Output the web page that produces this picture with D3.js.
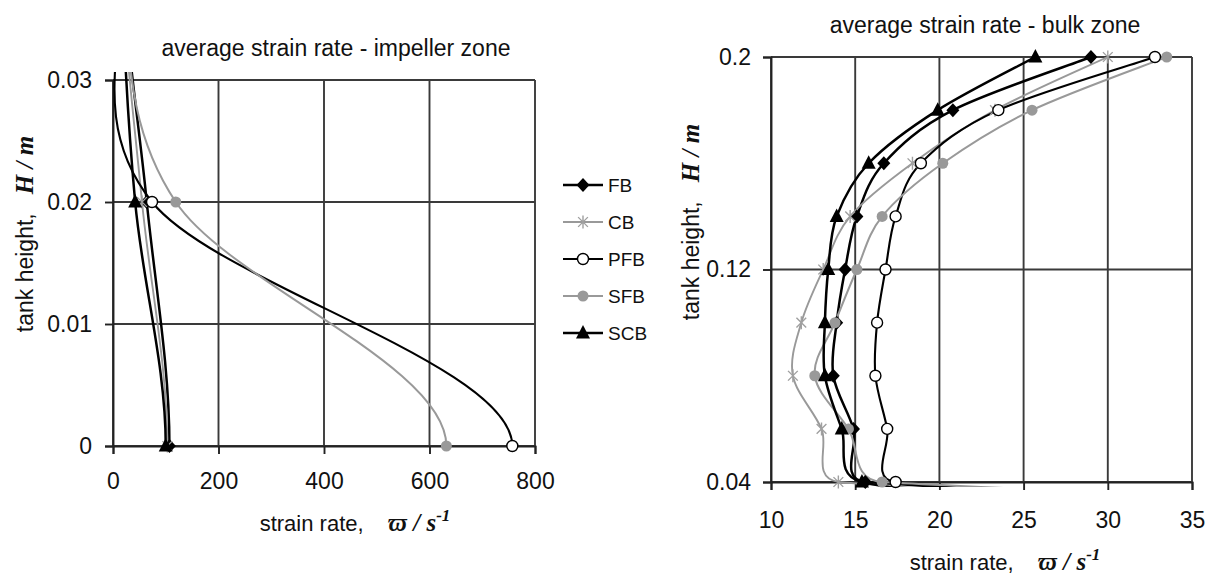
<!DOCTYPE html>
<html>
<head>
<meta charset="utf-8">
<script src="https://cdn.jsdelivr.net/npm/d3@7"></script>
<style>
  body { margin: 0; background: #fff; }
  svg text { font-family: "Liberation Sans", Arial, sans-serif; fill: #111; }
  .sym { font-family: "Liberation Serif", "DejaVu Serif", serif; font-weight: bold; font-style: italic; }
</style>
</head>
<body>
<svg id="chart" width="1211" height="579"></svg>
<script>
// ---- data -------------------------------------------------------------
const seriesNames = ["FB", "CB", "PFB", "SFB", "SCB"];

// impeller zone, height H (m); the -0.02 row lies below the plotted range
const impellerHeights = [-0.02, 0, 0.02];
const impellerFB  = [64, 107, 64];
const impellerCB  = [55, 103, 55];
const impellerPFB = [74, 757, 74];
const impellerSFB = [119, 632, 119];
const impellerSCB = [42, 100, 42];

// bulk zone, height H (m)
const bulkHeights = [0.04, 0.06, 0.08, 0.10, 0.12, 0.14, 0.16, 0.18, 0.20];
const bulkFB  = [15.6, 14.9, 13.7, 13.9, 14.4, 15.1, 16.7, 20.8, 29.0];
const bulkCB  = [14.0, 13.0, 11.3, 11.8, 13.1, 14.7, 18.4, 23.3, 30.0];
const bulkPFB = [17.4, 16.9, 16.2, 16.3, 16.8, 17.4, 18.9, 23.5, 32.8];
const bulkSFB = [16.6, 14.6, 12.6, 13.8, 15.1, 16.6, 20.2, 25.5, 33.5];
const bulkSCB = [15.4, 14.2, 13.2, 13.2, 13.4, 13.9, 15.8, 19.9, 25.7];

const impellerTicksX = [0, 200, 400, 600, 800];
const impellerTicksY = [0, 0.01, 0.02, 0.03];
const bulkTicksX = [10, 15, 20, 25, 30, 35];
const bulkTicksY = [0.04, 0.12, 0.2];

const impellerValues = { FB: impellerFB, CB: impellerCB, PFB: impellerPFB, SFB: impellerSFB, SCB: impellerSCB };
const bulkValues = { FB: bulkFB, CB: bulkCB, PFB: bulkPFB, SFB: bulkSFB, SCB: bulkSCB };

// each profile runs through the impeller zone and on into the bulk zone
const heights = impellerHeights.concat(bulkHeights);
const profiles = seriesNames.map(name => {
  const vals = impellerValues[name].concat(bulkValues[name]);
  return { name, points: heights.map((h, i) => ({ h, v: vals[i] })) };
});

// ---- styles -----------------------------------------------------------
const styles = {
  FB:  { stroke: "#000",    width: 2.5, marker: "diamond" },
  CB:  { stroke: "#999",    width: 1.9, marker: "star" },
  PFB: { stroke: "#000",    width: 2.1, marker: "openCircle" },
  SFB: { stroke: "#999",    width: 2.0, marker: "dot" },
  SCB: { stroke: "#000",    width: 2.5, marker: "triangle" }
};

const svg = d3.select("#chart");
const defs = svg.append("defs");

// smoothed line: cubic Bezier through the points with tangents from the
// neighbouring points, the handles limited by the adjacent segment lengths
function smoothPath(pts) {
  const n = pts.length;
  const tan = pts.map((p, i) => {
    const a = pts[Math.max(i - 1, 0)], b = pts[Math.min(i + 1, n - 1)];
    const dx = b[0] - a[0], dy = b[1] - a[1];
    const d02 = Math.hypot(dx, dy);
    let f = 1 / 6;
    if (i > 0 && i < n - 1 && d02 > 0) {
      const d01 = Math.hypot(p[0] - a[0], p[1] - a[1]);
      const d12 = Math.hypot(b[0] - p[0], b[1] - p[1]);
      f = Math.min(f, 0.5 * Math.min(d01, d12) / d02);
    }
    return [dx * f, dy * f];
  });
  const path = d3.path();
  path.moveTo(pts[0][0], pts[0][1]);
  for (let i = 0; i < n - 1; i++) {
    path.bezierCurveTo(
      pts[i][0] + tan[i][0], pts[i][1] + tan[i][1],
      pts[i + 1][0] - tan[i + 1][0], pts[i + 1][1] - tan[i + 1][1],
      pts[i + 1][0], pts[i + 1][1]);
  }
  return path.toString();
}

function drawMarker(g, type, x, y) {
  if (type === "diamond") {
    g.append("path").attr("d", `M${x},${y - 7}L${x + 6.5},${y}L${x},${y + 7}L${x - 6.5},${y}Z`).attr("fill", "#000");
  } else if (type === "triangle") {
    g.append("path").attr("d", `M${x},${y - 8}L${x + 7},${y + 5.5}L${x - 7},${y + 5.5}Z`).attr("fill", "#000");
  } else if (type === "openCircle") {
    g.append("circle").attr("cx", x).attr("cy", y).attr("r", 5.5).attr("fill", "#fff").attr("stroke", "#000").attr("stroke-width", 1.4);
  } else if (type === "dot") {
    g.append("circle").attr("cx", x).attr("cy", y).attr("r", 5.5).attr("fill", "#999");
  } else if (type === "star") {
    const r = 6.5, d = r * 0.75;
    g.append("path")
      .attr("d", `M${x},${y - r}L${x},${y + r}M${x - d},${y - d}L${x + d},${y + d}M${x - d},${y + d}L${x + d},${y - d}`)
      .attr("stroke", "#a0a0a0").attr("stroke-width", 1.4).attr("fill", "none");
  }
}

function drawPanel(cfg) {
  const x = d3.scaleLinear().domain(cfg.xDomain).range([cfg.left, cfg.right]);
  const y = d3.scaleLinear().domain(cfg.yDomain).range([cfg.bottom, cfg.top]);
  const g = svg.append("g");

  // grid and frame
  g.selectAll("line.vg").data(cfg.ticksX).join("line")
    .attr("x1", d => x(d)).attr("x2", d => x(d))
    .attr("y1", cfg.top).attr("y2", cfg.bottom)
    .attr("stroke", "#3a3a3a").attr("stroke-width", 1.9);
  g.selectAll("line.hg").data(cfg.ticksY).join("line")
    .attr("y1", d => y(d)).attr("y2", d => y(d))
    .attr("x1", cfg.left).attr("x2", cfg.right)
    .attr("stroke", "#3a3a3a").attr("stroke-width", 1.9);

  // axes
  const ax = g.append("g").attr("transform", `translate(0,${cfg.bottom})`)
    .call(d3.axisBottom(x).tickValues(cfg.ticksX).tickFormat(d => String(d)).tickSizeOuter(0).tickSize(8).tickPadding(cfg.xPad));
  const ay = g.append("g").attr("transform", `translate(${cfg.left},0)`)
    .call(d3.axisLeft(y).tickValues(cfg.ticksY).tickFormat(d => String(d)).tickSizeOuter(0).tickSize(8).tickPadding(cfg.yPad));
  [ax, ay].forEach(a => {
    a.select(".domain").attr("stroke", "#222").attr("stroke-width", 1.9);
    a.selectAll(".tick line").attr("stroke", "#222").attr("stroke-width", 1.9);
    a.selectAll(".tick text").attr("font-size", 23).attr("fill", "#111")
      .style("font-family", '"Liberation Sans", Arial, sans-serif');
  });

  // lines, clipped to the plot (with a little spill as in the source)
  const clipId = "clip-" + cfg.id;
  defs.append("clipPath").attr("id", clipId).append("rect")
    .attr("x", cfg.left).attr("y", cfg.top - cfg.spillTop)
    .attr("width", cfg.right - cfg.left)
    .attr("height", cfg.bottom - cfg.top + cfg.spillTop + cfg.spillBottom);
  const lines = g.append("g").attr("clip-path", `url(#${clipId})`);
  profiles.forEach(p => {
    const pts = p.points.map(d => [x(d.v), y(d.h)]);
    lines.append("path").attr("d", smoothPath(pts))
      .attr("fill", "none").attr("stroke", styles[p.name].stroke)
      .attr("stroke-width", styles[p.name].width).attr("stroke-linejoin", "round");
  });

  // markers on the points inside the plotted range
  const mk = g.append("g");
  const [h0, h1] = cfg.yDomain;
  profiles.forEach(p => {
    p.points.filter(d => d.h >= h0 - 1e-9 && d.h <= h1 + 1e-9 && d.v >= cfg.xDomain[0] && d.v <= cfg.xDomain[1])
      .forEach(d => drawMarker(mk, styles[p.name].marker, x(d.v), y(d.h)));
  });

  // titles
  g.append("text").attr("x", cfg.titleX).attr("y", cfg.titleY).attr("text-anchor", "middle")
    .attr("font-size", 23).text(cfg.title);

  const xt = g.append("text").attr("x", cfg.xLabelX).attr("y", cfg.xLabelY).attr("text-anchor", "middle").attr("font-size", 22);
  xt.append("tspan").text("strain rate,\u00a0\u00a0\u00a0 ");
  xt.append("tspan").attr("class", "sym").attr("font-size", 25).text("\u03d6\u00a0/\u00a0s");
  xt.append("tspan").attr("class", "sym").attr("font-size", 17).attr("dy", -10).text("-1");

  const yt = g.append("text")
    .attr("transform", `translate(${cfg.yLabelX},${cfg.yLabelY}) rotate(-90)`)
    .attr("text-anchor", "middle").attr("font-size", 23);
  yt.append("tspan").text("tank height,\u00a0\u00a0 ");
  yt.append("tspan").attr("class", "sym").attr("font-size", 25).text("H\u00a0/\u00a0m");
}

drawPanel({
  id: "impeller", left: 113, right: 535, top: 80, bottom: 446,
  xDomain: [0, 800], yDomain: [0, 0.03],
  ticksX: impellerTicksX, ticksY: impellerTicksY,
  xPad: 19, yPad: 13, spillTop: 8, spillBottom: 0,
  title: "average strain rate - impeller zone", titleX: 336, titleY: 56,
  xLabelX: 355, xLabelY: 531, yLabelX: 33, yLabelY: 234
});

drawPanel({
  id: "bulk", left: 771, right: 1192, top: 57, bottom: 482,
  xDomain: [10, 35], yDomain: [0.04, 0.2],
  ticksX: bulkTicksX, ticksY: bulkTicksY,
  xPad: 22, yPad: 12, spillTop: 0, spillBottom: 5,
  title: "average strain rate - bulk zone", titleX: 985, titleY: 33,
  xLabelX: 1005, xLabelY: 570, yLabelX: 699, yLabelY: 222
});

// legend
const legend = svg.append("g");
const legendY = d3.scalePoint().domain(seriesNames).range([185, 333]);
seriesNames.forEach(name => {
  const st = styles[name];
  const yy = legendY(name);
  legend.append("line").attr("x1", 563).attr("x2", 603).attr("y1", yy).attr("y2", yy)
    .attr("stroke", st.stroke).attr("stroke-width", st.width);
  drawMarker(legend, st.marker, 583, yy);
  legend.append("text").attr("x", 608).attr("y", yy).attr("dy", "0.36em")
    .attr("font-size", 19).text(name);
});
</script>
</body>
</html>
